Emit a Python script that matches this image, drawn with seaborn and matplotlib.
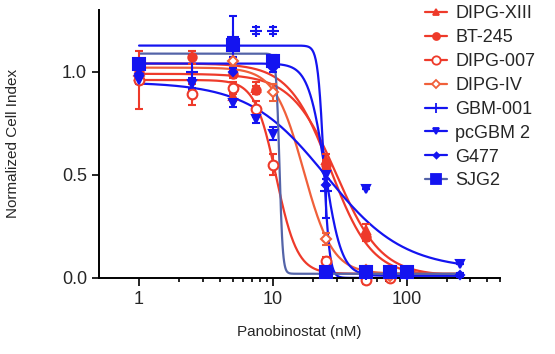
import numpy as np
import pandas as pd
import matplotlib
matplotlib.use("Agg")
import matplotlib.pyplot as plt
from matplotlib.lines import Line2D
from matplotlib.ticker import NullFormatter, FixedLocator, FixedFormatter
import seaborn as sns

# Lignes cellulaires
lines = ['DIPG-XIII', 'BT-245', 'DIPG-007', 'DIPG-IV', 'GBM-001', 'pcGBM 2', 'G477', 'SJG2']

# Points mesurés (concentration nM, indice normalisé, erreur)
conc = {
    'DIPG-XIII': [1, 5, 7.5, 25, 50],
    'BT-245': [1, 2.5, 5, 7.5, 25, 50],
    'DIPG-007': [1, 2.5, 5, 7.5, 10, 25, 50, 75],
    'DIPG-IV': [1, 5, 10, 25, 50, 75],
    'GBM-001': [1, 2.5, 5, 7.5, 10, 25, 50, 100],
    'pcGBM 2': [1, 2.5, 5, 7.5, 10, 25, 50, 250],
    'G477': [1, 5, 10, 25, 50, 100, 250],
    'SJG2': [1, 5, 10, 25, 50, 75, 100],
}
vals = {
    'DIPG-XIII': [0.98, 0.88, 0.92, 0.57, 0.23],
    'BT-245': [1.00, 1.07, 0.99, 0.91, 0.55, 0.20],
    'DIPG-007': [0.96, 0.89, 0.92, 0.82, 0.55, 0.08, -0.01, 0.00],
    'DIPG-IV': [0.98, 1.05, 0.90, 0.19, 0.04, 0.01],
    'GBM-001': [1.03, 1.00, 1.17, 1.20, 1.20, 0.42, 0.02, 0.02],
    'pcGBM 2': [0.96, 0.94, 0.85, 0.77, 0.70, 0.50, 0.43, 0.065],
    'G477': [0.99, 1.00, 1.02, 0.45, 0.02, 0.02, 0.015],
    'SJG2': [1.04, 1.13, 1.05, 0.03, 0.03, 0.03, 0.03],
}
errs = {
    'DIPG-XIII': [0.03, 0.02, 0.03, 0.03, 0.03],
    'BT-245': [0.02, 0.03, 0.02, 0.02, 0.02, 0.02],
    'DIPG-007': [0.14, 0.05, 0.03, 0.04, 0.05, 0.02, 0.02, 0.01],
    'DIPG-IV': [0.02, 0.02, 0.04, 0.03, 0.02, 0.01],
    'GBM-001': [0.02, 0.08, 0.10, 0.015, 0.015, 0.13, 0.01, 0.01],
    'pcGBM 2': [0.02, 0.03, 0.02, 0.02, 0.03, 0.02, 0.0, 0.0],
    'G477': [0.02, 0.02, 0.02, 0.03, 0.01, 0.01, 0.01],
    'SJG2': [0.02, 0.03, 0.03, 0.01, 0.01, 0.01, 0.01],
}

# Paramètres des ajustements (top, bottom, IC50, pente de Hill)
fit_top = [0.99, 1.04, 0.96, 1.02, 1.127, 0.95, 1.04, 1.088]
fit_bottom = [0.01, 0.01, 0.02, 0.02, 0.0, 0.04, 0.01, 0.02]
fit_ic50 = [30, 27, 10.6, 17, 24, 25, 24.5, 11.2]
fit_hill = [2.6, 2.8, 5.5, 4, 20, 1.5, 7, 35]

RED = '#ee3a2a'
ORANGE = '#f0603a'
BLUE = '#1414f0'
SLATE = '#5464a8'
line_colors = [RED, RED, RED, ORANGE, BLUE, BLUE, BLUE, SLATE]
mark_colors = [RED, RED, RED, ORANGE, BLUE, BLUE, BLUE, BLUE]
markers = ['^', 'o', 'o', 'D', '+', 'v', 'D', 's']
msizes = [6, 6, 7, 5, 8, 6, 4, 8]
filled = [True, True, False, False, True, True, True, True]

# Courbes ajustées
xs = np.logspace(0, np.log10(250), 600)
rows = []
for i, name in enumerate(lines):
    y = fit_bottom[i] + (fit_top[i] - fit_bottom[i]) / (1 + (xs / fit_ic50[i]) ** fit_hill[i])
    rows.append(pd.DataFrame({'Conc': xs, 'Index': y, 'Line': name}))
df_fit = pd.concat(rows, ignore_index=True)

sns.set_style("ticks")
plt.rcParams['font.family'] = ['Liberation Sans', 'DejaVu Sans']

fig = plt.figure(figsize=(5.55, 3.54), dpi=100)
ax = fig.add_axes([0.178, 0.215, 0.723, 0.757])

palette = dict(zip(lines, line_colors))
sns.lineplot(data=df_fit, x='Conc', y='Index', hue='Line', palette=palette,
             legend=False, ax=ax, linewidth=1.6, estimator=None, sort=False)

for i, name in enumerate(lines):
    c = mark_colors[i]
    mfc = c if filled[i] else 'white'
    ax.errorbar(conc[name], vals[name], yerr=errs[name], fmt=markers[i], color=c,
                mfc=mfc, mec=c, ms=msizes[i], mew=1.5, elinewidth=1.5,
                capsize=3, capthick=1.5, clip_on=False, zorder=3)

ax.set_xscale('log')
ax.set_xlim(0.5, 500)
ax.set_ylim(0, 1.3)
ax.xaxis.set_major_locator(FixedLocator([1, 10, 100]))
ax.xaxis.set_major_formatter(FixedFormatter(['1', '10', '100']))
minor = [m * d for d in [1, 10, 100] for m in range(2, 10) if m * d <= 500]
ax.xaxis.set_minor_locator(FixedLocator(minor))
ax.xaxis.set_minor_formatter(NullFormatter())
ax.set_yticks([0.0, 0.5, 1.0])
ax.set_yticklabels(['0.0', '0.5', '1.0'])
ax.tick_params(axis='both', which='major', length=5, width=1.2, labelsize=13, color='black')
ax.tick_params(axis='x', which='major', length=6)
ax.tick_params(axis='x', which='minor', length=3, width=1.2, color='black')
for s in ['left', 'bottom']:
    ax.spines[s].set_color('black')
    ax.spines[s].set_linewidth(1.4)
sns.despine(ax=ax)

ax.set_xlabel("Panobinostat (nM)", fontsize=11, labelpad=12)
ax.set_ylabel("Normalized Cell Index", fontsize=11, labelpad=30)

handles = []
for i, name in enumerate(lines):
    c = mark_colors[i]
    mfc = c if filled[i] else 'white'
    handles.append(Line2D([], [], color=line_colors[i], marker=markers[i], mfc=mfc, mec=c,
                          ms=msizes[i] - 1, mew=1.3, lw=1.6))
leg = fig.legend(handles, lines, loc='upper left', bbox_to_anchor=(0.752, 1.005),
                 frameon=False, fontsize=13, handlelength=1.25, handletextpad=0.45,
                 labelspacing=0.38, borderaxespad=0)

fig.savefig("out.png", dpi=100)
